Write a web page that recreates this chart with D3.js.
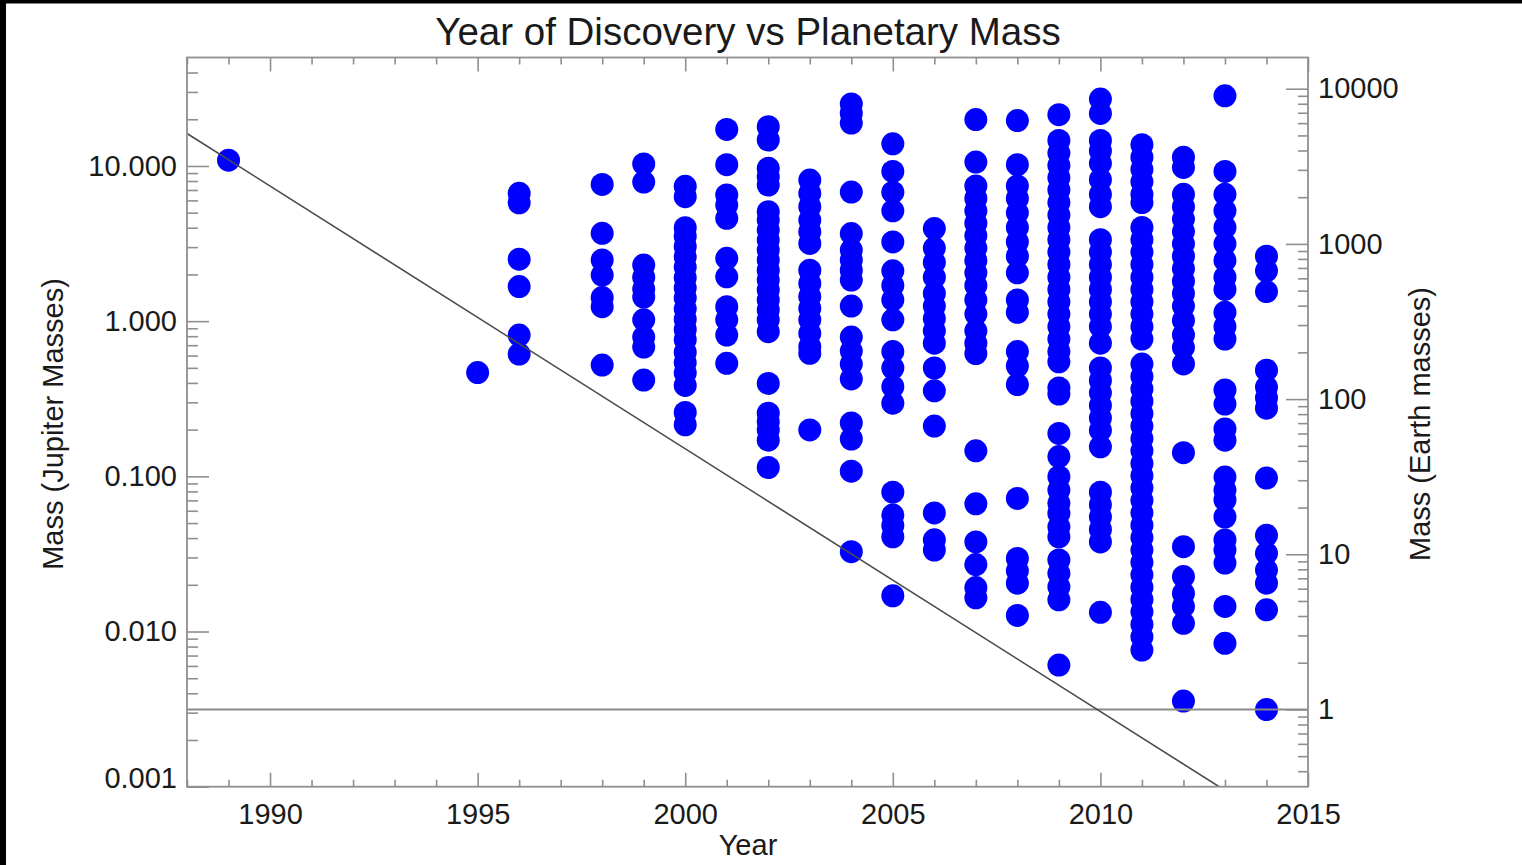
<!DOCTYPE html>
<html>
<head>
<meta charset="utf-8">
<script src="https://cdn.jsdelivr.net/npm/d3@7"></script>
<style>
  body { margin: 0; background: #fff; }
  svg text { font-family: "Liberation Sans", Arial, Helvetica, sans-serif; }
</style>
</head>
<body>
<div id="chart"></div>
<script>
// Ticks
const yearTicks = [1990, 1995, 2000, 2005, 2010, 2015];
const jupiterTicks = [10, 1, 0.1, 0.01, 0.001];
const earthTicks = [10000, 1000, 100, 10, 1];
const earthPerJupiter = 317.83;

// Masses (Jupiter masses) per discovery year
const mass1989 = [10.9];
const mass1995 = [0.466];
const mass1996 = [6.66, 5.79, 2.51, 1.67, 0.814, 0.614];
const mass1998 = [7.61, 3.68, 2.48, 1.98, 1.42, 1.24, 0.521];
const mass1999 = [10.3, 7.88, 2.30, 1.92, 1.61, 1.43, 1.02, 0.790, 0.681, 0.417];
const mass2000 = [7.40, 6.34, 4.00, 3.53, 3.03, 2.60, 2.23, 1.91, 1.64, 1.41, 1.20, 1.03, 0.885, 0.759, 0.631, 0.541, 0.464, 0.385, 0.258, 0.215];
const mass2001 = [17.2, 10.2, 6.50, 5.60, 4.60, 2.54, 1.93, 1.24, 1.02, 0.814, 0.535];
const mass2002 = [17.9, 14.7, 9.65, 8.52, 7.53, 5.07, 4.48, 3.86, 3.33, 2.87, 2.48, 2.13, 1.84, 1.59, 1.37, 1.18, 1.02, 0.855, 0.397, 0.255, 0.225, 0.199, 0.171, 0.114];
const mass2003 = [8.11, 6.66, 5.46, 4.48, 3.77, 3.17, 2.13, 1.75, 1.44, 1.21, 1.02, 0.835, 0.684, 0.620, 0.199];
const mass2004 = [25.1, 21.9, 18.9, 6.79, 3.67, 2.87, 2.48, 2.13, 1.84, 1.25, 0.790, 0.642, 0.529, 0.424, 0.221, 0.174, 0.108, 0.0327];
const mass2005 = [13.9, 9.22, 6.78, 5.14, 3.24, 2.11, 1.70, 1.37, 1.02, 0.637, 0.499, 0.378, 0.296, 0.0791, 0.0563, 0.0483, 0.0408, 0.0170];
const mass2006 = [3.95, 2.96, 2.39, 1.92, 1.51, 1.25, 1.04, 0.866, 0.721, 0.499, 0.356, 0.211, 0.0581, 0.0390, 0.0335];
const mass2007 = [19.9, 10.6, 7.43, 6.18, 5.14, 4.28, 3.56, 2.96, 2.46, 2.05, 1.70, 1.37, 1.11, 0.866, 0.721, 0.618, 0.146, 0.0665, 0.0378, 0.0270, 0.0192, 0.0165];
const mass2008 = [19.6, 10.2, 7.43, 6.18, 4.99, 4.02, 3.24, 2.62, 2.05, 1.37, 1.14, 0.637, 0.514, 0.390, 0.0721, 0.0296, 0.0246, 0.0205, 0.0127];
const mass2009 = [21.4, 14.6, 12.1, 10.1, 8.41, 7.00, 5.81, 4.83, 4.02, 3.35, 2.78, 2.32, 1.92, 1.60, 1.33, 1.11, 0.922, 0.767, 0.637, 0.547, 0.371, 0.339, 0.189, 0.134, 0.0994, 0.0816, 0.0670, 0.0578, 0.0473, 0.0408, 0.0289, 0.0237, 0.0194, 0.0160, 0.00608];
const mass2010 = [27.0, 21.8, 14.6, 12.5, 10.4, 8.15, 6.57, 5.47, 3.35, 2.78, 2.32, 1.92, 1.60, 1.33, 1.11, 0.922, 0.721, 0.499, 0.415, 0.345, 0.287, 0.238, 0.198, 0.155, 0.0791, 0.0657, 0.0547, 0.0455, 0.0378, 0.0133];
const mass2011 = [13.7, 11.4, 9.51, 7.90, 6.57, 5.81, 4.02, 3.35, 2.78, 2.32, 1.92, 1.60, 1.33, 1.11, 0.922, 0.767, 0.529, 0.440, 0.366, 0.305, 0.254, 0.211, 0.175, 0.146, 0.121, 0.101, 0.0841, 0.0700, 0.0582, 0.0484, 0.0403, 0.0335, 0.0279, 0.0232, 0.0193, 0.0161, 0.0134, 0.0111, 0.00924, 0.00760];
const mass2012 = [11.4, 9.79, 6.57, 5.47, 4.55, 3.78, 3.15, 2.62, 2.18, 1.81, 1.51, 1.25, 1.01, 0.815, 0.678, 0.530, 0.142, 0.0352, 0.0226, 0.0176, 0.0145, 0.0113, 0.00356];
const mass2013 = [28.3, 9.22, 6.57, 5.14, 4.02, 3.15, 2.46, 1.92, 1.60, 1.14, 0.922, 0.767, 0.360, 0.292, 0.202, 0.171, 0.0990, 0.0816, 0.0704, 0.0547, 0.0389, 0.0335, 0.0276, 0.0145, 0.00840];
const mass2014 = [2.62, 2.11, 1.55, 0.483, 0.376, 0.320, 0.275, 0.0975, 0.0417, 0.0319, 0.0249, 0.0205, 0.0138, 0.00314];

const discoveries = [
  [1989, mass1989], [1995, mass1995], [1996, mass1996], [1998, mass1998],
  [1999, mass1999], [2000, mass2000], [2001, mass2001], [2002, mass2002],
  [2003, mass2003], [2004, mass2004], [2005, mass2005], [2006, mass2006],
  [2007, mass2007], [2008, mass2008], [2009, mass2009], [2010, mass2010],
  [2011, mass2011], [2012, mass2012], [2013, mass2013], [2014, mass2014]
];

// trend line end points (year, Jupiter masses)
const trendYears = [1988, 2012.86];
const trendMass = [16.2, 0.001];

const width = 1522;
const height = 865;
const margin = { top: 57.5, right: 214, bottom: 78.3, left: 187 };
const axisColor = "#8f8f8f";
const textColor = "#1a1a1a";

const x = d3.scaleLinear()
  .domain([1988, 2015])
  .range([margin.left, width - margin.right]);

const y = d3.scaleLog()
  .domain([0.001, 50])
  .range([height - margin.bottom, margin.top]);

const yEarth = d3.scaleLog()
  .domain(y.domain().map(d => d * earthPerJupiter))
  .range(y.range());

function minorTicks(scale) {
  const [d0, d1] = scale.domain();
  const out = [];
  for (let k = Math.floor(Math.log10(d0)); k <= Math.ceil(Math.log10(d1)); k++) {
    for (let m = 2; m <= 9; m++) {
      const v = m * Math.pow(10, k);
      if (v > d0 && v < d1) out.push(v);
    }
  }
  return out;
}

const svg = d3.select("#chart")
  .append("svg")
  .attr("width", width)
  .attr("height", height)
  .attr("viewBox", [0, 0, width, height])
  .style("background", "#fff");

// black frame edges of the screenshot
svg.append("rect").attr("x", 0).attr("y", 0).attr("width", width).attr("height", 3.5).attr("fill", "#000");
svg.append("rect").attr("x", 0).attr("y", 0).attr("width", 6).attr("height", height).attr("fill", "#000");

// points
const points = discoveries.flatMap(([year, masses]) => masses.map(m => ({ year, mass: m })));

svg.append("g")
  .selectAll("circle")
  .data(points)
  .join("circle")
  .attr("cx", d => x(d.year))
  .attr("cy", d => y(d.mass))
  .attr("r", 11.5)
  .attr("fill", "#0000ff");

// clip for lines
svg.append("clipPath")
  .attr("id", "plot-clip")
  .append("rect")
  .attr("x", margin.left)
  .attr("y", margin.top)
  .attr("width", width - margin.right - margin.left)
  .attr("height", height - margin.bottom - margin.top);

// 1 Earth mass line
svg.append("line")
  .attr("x1", x(1988))
  .attr("x2", x(2015))
  .attr("y1", y(1 / earthPerJupiter))
  .attr("y2", y(1 / earthPerJupiter))
  .attr("stroke", "#8a8a8a")
  .attr("stroke-width", 2);

// trend line
const line = d3.line()
  .x(d => x(d[0]))
  .y(d => y(d[1]));

svg.append("path")
  .datum(d3.zip(trendYears, trendMass))
  .attr("clip-path", "url(#plot-clip)")
  .attr("fill", "none")
  .attr("stroke", "#4a4a4a")
  .attr("stroke-width", 1.6)
  .attr("d", line);

// frame
svg.append("rect")
  .attr("x", margin.left)
  .attr("y", margin.top)
  .attr("width", width - margin.right - margin.left)
  .attr("height", height - margin.bottom - margin.top)
  .attr("fill", "none")
  .attr("stroke", axisColor)
  .attr("stroke-width", 1.8);

function styleAxis(g) {
  g.select(".domain").remove();
  g.attr("font-size", 29)
    .attr("font-family", '"Liberation Sans", Arial, Helvetica, sans-serif')
    .attr("color", textColor);
  g.selectAll(".tick line").attr("stroke", axisColor).attr("stroke-width", 1.6);
}

const yearMinor = d3.range(1988, 2016).filter(d => !yearTicks.includes(d));

// bottom
svg.append("g")
  .attr("transform", `translate(0,${height - margin.bottom})`)
  .call(d3.axisBottom(x).tickValues(yearTicks).tickSizeInner(-14).tickSizeOuter(0).tickPadding(17).tickFormat(d3.format("d")))
  .call(styleAxis);
svg.append("g")
  .attr("transform", `translate(0,${height - margin.bottom})`)
  .call(d3.axisBottom(x).tickValues(yearMinor).tickSize(-7).tickFormat(""))
  .call(styleAxis);

// top
svg.append("g")
  .attr("transform", `translate(0,${margin.top})`)
  .call(d3.axisTop(x).tickValues(yearTicks).tickSize(-14).tickFormat(""))
  .call(styleAxis);
svg.append("g")
  .attr("transform", `translate(0,${margin.top})`)
  .call(d3.axisTop(x).tickValues(yearMinor).tickSize(-7).tickFormat(""))
  .call(styleAxis);

// left
svg.append("g")
  .attr("transform", `translate(${margin.left},0)`)
  .call(d3.axisLeft(y).tickValues(jupiterTicks).tickSizeInner(-22).tickSizeOuter(0).tickPadding(10).tickFormat(d3.format(".3f")))
  .call(styleAxis)
  .call(g => g.selectAll(".tick text").filter(d => d === 0.001).attr("y", -8));
svg.append("g")
  .attr("transform", `translate(${margin.left},0)`)
  .call(d3.axisLeft(y).tickValues(minorTicks(y)).tickSize(-11).tickFormat(""))
  .call(styleAxis);

// right
svg.append("g")
  .attr("transform", `translate(${width - margin.right},0)`)
  .call(d3.axisRight(yEarth).tickValues(earthTicks).tickSizeInner(-22).tickSizeOuter(0).tickPadding(10).tickFormat(d3.format("d")))
  .call(styleAxis);
svg.append("g")
  .attr("transform", `translate(${width - margin.right},0)`)
  .call(d3.axisRight(yEarth).tickValues(minorTicks(yEarth)).tickSize(-10).tickFormat(""))
  .call(styleAxis);

// titles
svg.append("text")
  .attr("x", 748)
  .attr("y", 45)
  .attr("text-anchor", "middle")
  .attr("font-size", 38.5)
  .attr("fill", textColor)
  .text("Year of Discovery vs Planetary Mass");

svg.append("text")
  .attr("x", 748)
  .attr("y", 855)
  .attr("text-anchor", "middle")
  .attr("font-size", 29)
  .attr("fill", textColor)
  .text("Year");

svg.append("text")
  .attr("transform", "translate(63,424) rotate(-90)")
  .attr("text-anchor", "middle")
  .attr("font-size", 29)
  .attr("fill", textColor)
  .text("Mass (Jupiter Masses)");

svg.append("text")
  .attr("transform", "translate(1430,424) rotate(-90)")
  .attr("text-anchor", "middle")
  .attr("font-size", 29)
  .attr("fill", textColor)
  .text("Mass (Earth masses)");
</script>
</body>
</html>
